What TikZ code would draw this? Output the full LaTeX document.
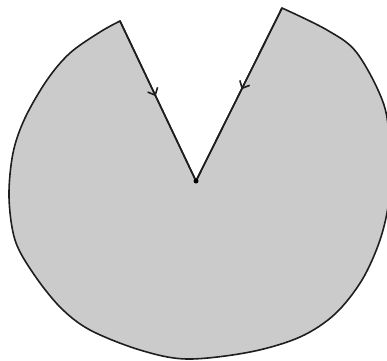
\documentclass[tikz,border=0pt]{standalone}
\usetikzlibrary{arrows.meta, decorations.markings}
\definecolor{cfill}{HTML}{CBCBCB}
\definecolor{cline}{HTML}{1E1E1E}
\tikzset{
  every picture/.style={line width=1.6pt, line join=round, line cap=round},
  sector/.style={draw=cline, fill=cfill},
  edge/.style={draw=cline, postaction={decorate}, decoration={markings,
    mark=at position 0.47 with {\arrow{Straight Barb[length=6pt, width=11pt]}}}},
  centre/.style={circle, fill=black, inner sep=0pt, minimum size=5pt},
}

\begin{document}
\begin{tikzpicture}[x=1pt, y=-1pt]
  \useasboundingbox (0,0) rectangle (387,360);
  % corners of the cut-out wedge
  \coordinate (o) at (196,181);
  \coordinate (a) at (120,21);
  \coordinate (b) at (282,8);
  % the disc with the wedge removed
  \path[sector] (o) -- (a) -- plot[smooth, tension=0.55] coordinates {
    (120,21) (100,32) (70,53) (47,80) (25,118) (13,153) (9,197) (15,240)
    (33,273) (60,307) (90,330) (140,350) (187,359) (250,352) (300,337)
    (335,314) (362,280) (380,240) (389,200) (390,155) (384,105) (357,53)
    (327,30) (282,8)}
    -- cycle;
  % the two radii, both pointing in
  \path[edge] (a) -- (o);
  \path[edge] (b) -- (o);
  \node[centre] (c) at (o) {};
\end{tikzpicture}
\end{document}
